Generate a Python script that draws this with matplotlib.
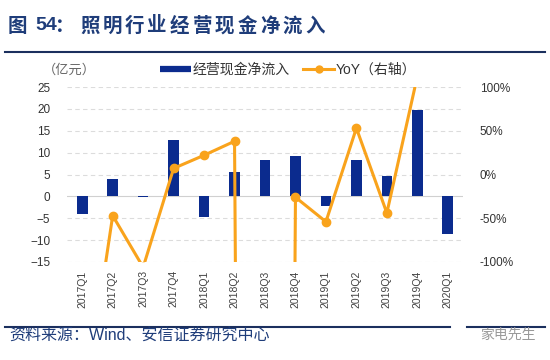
import matplotlib
matplotlib.use("Agg")
import matplotlib.pyplot as plt
from matplotlib.lines import Line2D
import numpy as np

plt.rcParams['font.family'] = ['Liberation Sans', 'Noto Sans CJK SC', 'DejaVu Sans']

# data
quarters = ['2017Q1', '2017Q2', '2017Q3', '2017Q4', '2018Q1', '2018Q2', '2018Q3',
            '2018Q4', '2019Q1', '2019Q2', '2019Q3', '2019Q4', '2020Q1']
cash_flow = [-4.0, 4.0, -0.25, 12.9, -4.8, 5.5, 8.3, 9.3, -2.3, 8.3, 4.6, 19.8, -8.7]
yoy = [-280, -47, -106, 7, 22, 38, -5000, -26, -54, 53, -44, 112, np.nan]

left_ticks = [-15, -10, -5, 0, 5, 10, 15, 20, 25]
right_ticks = [-100, -50, 0, 50, 100]

navy = '#0B2B8E'
orange = '#F9A31C'
title_blue = '#1F3D7A'

fig = plt.figure(figsize=(5.5, 3.6), dpi=100)
ax = fig.add_axes([67/550, 1 - 262/360, 396/550, 175/360])
ax2 = ax.twinx()

x = np.arange(len(quarters))
ax.bar(x, cash_flow, width=0.35, color=navy, zorder=2)
ax2.plot(x, yoy, color=orange, lw=2.2, marker='o', ms=6, zorder=3)

ax.set_xlim(-0.5, len(quarters) - 0.5)
ax.set_ylim(-15, 25)
ax2.set_ylim(-100, 100)
ax.set_yticks(left_ticks)
ax2.set_yticks(right_ticks)
ax2.set_yticklabels([f'{t}%' for t in right_ticks])
ax.set_xticks(x)
ax.set_xticklabels(quarters, rotation=90)

for t in left_ticks:
    if t == 0:
        ax.axhline(t, color='#d0d0d0', lw=0.8, zorder=1)
    else:
        ax.axhline(t, color='#dcdcdc', lw=0.8, ls=(0, (4, 3)), zorder=1)

for a in (ax, ax2):
    for s in a.spines.values():
        s.set_visible(False)
    a.tick_params(length=0)
ax.tick_params(axis='y', pad=12, labelsize=8.5, labelcolor='#333333')
ax2.tick_params(axis='y', pad=12, labelsize=8.5, labelcolor='#333333')
ax.tick_params(axis='x', pad=6, labelsize=7.5, labelcolor='#404040')
ax.set_zorder(ax2.get_zorder() - 1)
ax2.patch.set_visible(False)

# unit label and legend
fig.text(43/550, 1 - 70/360, '（亿元）', fontsize=9.5, color='#666666', va='center')
handles = [Line2D([], [], color=navy, lw=4.5, solid_capstyle='butt'),
           Line2D([], [], color=orange, lw=2.2, marker='o', ms=5)]
fig.legend(handles, ['经营现金净流入', 'YoY（右轴）'], loc='center',
           bbox_to_anchor=(288/550, 1 - 70/360), ncol=2, frameon=False,
           fontsize=10, handlelength=2.2, handletextpad=0.1, columnspacing=1.0,
           labelcolor='#333333')

# title, one character at a time to keep the wide spacing
fig.text(8/550, 1 - 26/360, '图', fontsize=14, fontweight='bold', color=title_blue,
         va='center', family=['Noto Sans CJK SC'])
fig.text(35/550, 1 - 26/360, '54', fontsize=14, fontweight='bold', color=title_blue,
         va='center', family=['Liberation Sans'])
fig.text(55/550, 1 - 26/360, '：', fontsize=14, fontweight='bold', color=title_blue,
         va='center', family=['Noto Sans CJK SC'])
for i, ch in enumerate('照明行业经营现金净流入'):
    fig.text((80 + 22.5 * i)/550, 1 - 26/360, ch, fontsize=14, fontweight='bold',
             color=title_blue, va='center', family=['Noto Sans CJK SC'])

fig.add_artist(Line2D([5/550, 545/550], [1 - 52/360, 1 - 52/360], color='#1B2F5E', lw=1.5))
fig.add_artist(Line2D([5/550, 450/550], [1 - 327/360, 1 - 327/360], color='#1B2F5E', lw=1.5))
fig.add_artist(Line2D([467/550, 545/550], [1 - 327/360, 1 - 327/360], color='#1B2F5E', lw=1.5))

fig.text(9/550, 1 - 336/360, '资料来源：Wind、安信证券研究中心', fontsize=11.5,
         color=title_blue, va='center')
fig.text(480/550, 1 - 335/360, '家电先生', fontsize=10, color='#999999', va='center',
         family=['Noto Sans CJK SC'])

fig.savefig('out.png', dpi=100)
